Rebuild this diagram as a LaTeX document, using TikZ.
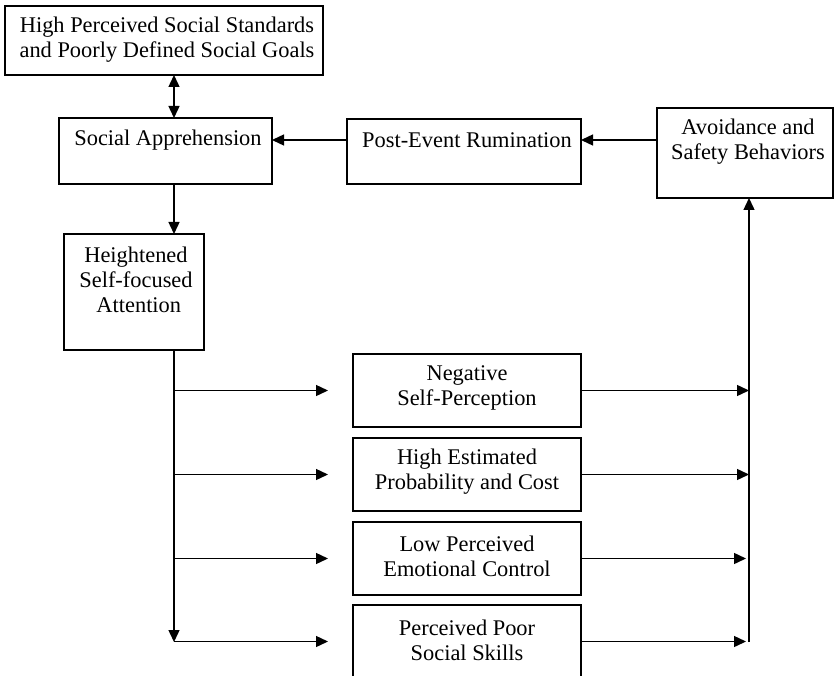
\documentclass[tikz,border=0pt]{standalone}
\usepackage{fontspec}
\setmainfont{Liberation Serif}
\usetikzlibrary{arrows.meta}
\begin{document}
\begin{tikzpicture}[x=1pt,y=-1pt,
  box/.style={draw, line width=1.8pt, inner sep=0pt, outer sep=0pt},
  txt/.style={inner sep=0pt, align=center, font=\fontsize{22.4}{25}\selectfont},
  arr/.style={line width=1.4pt, -{Triangle[length=12pt,width=11pt]}},
  dblarr/.style={line width=1.4pt, {Triangle[length=12pt,width=11pt]}-{Triangle[length=12pt,width=11pt]}},
  ln/.style={line width=1.4pt}]
\clip (0,0) rectangle (834,676);
\fill[white] (0,0) rectangle (834,676);
% boxes
\node[box, minimum width=318pt, minimum height=69pt] (hps) at (164,40.5) {};
\node[box, minimum width=213pt, minimum height=66pt] (sa) at (165.5,151) {};
\node[box, minimum width=234pt, minimum height=65pt] (per) at (464,151.5) {};
\node[box, minimum width=176pt, minimum height=90pt] (asb) at (745,153) {};
\node[box, minimum width=140pt, minimum height=116pt] (hsf) at (134,292) {};
\node[box, minimum width=228pt, minimum height=73pt] (m1) at (467,390.5) {};
\node[box, minimum width=228pt, minimum height=73pt] (m2) at (467,474.5) {};
\node[box, minimum width=228pt, minimum height=73pt] (m3) at (467,558.5) {};
\node[box, minimum width=228pt, minimum height=73pt] (m4) at (467,641.5) {};
% texts
\node[txt] (t-hps) at (167,40) {High Perceived Social Standards\\and Poorly Defined Social Goals};
\node[txt] (t-sa) at (168,140) {Social Apprehension};
\node[txt] (t-per) at (467,140) {Post-Event Rumination};
\node[txt] (t-asb) at (748,142) {Avoidance and\\Safety Behaviors};
\node[txt] (t-hsf) at (136,280) {Heightened\\Self-focused\\\ Attention};
\node[txt] (t-m1) at (467,388) {Negative\\Self-Perception};
\node[txt] (t-m2) at (467,472) {High Estimated\\Probability and Cost};
\node[txt] (t-m3) at (467,556) {Low Perceived\\Emotional Control};
\node[txt] (t-m4) at (467,640) {Perceived Poor\\Social Skills};
% coordinates
\coordinate (trunkend) at (174,642);
\coordinate (b1) at (174,390.5);
\coordinate (b2) at (174,474.5);
\coordinate (b3) at (174,558.5);
\coordinate (b4) at (174,641.5);
\coordinate (e1) at (328,390.5);
\coordinate (e2) at (328,474.5);
\coordinate (e3) at (328,558.5);
\coordinate (e4) at (328,641.5);
\coordinate (r1) at (749,390.5);
\coordinate (r2) at (749,474.5);
\coordinate (r3) at (746,558.5);
\coordinate (r4) at (746,641.5);
\coordinate (rbot) at (749,642);
\coordinate (ylev) at (0,140);
% connectors
\draw[dblarr] (hps.south -| 174,0) -- (sa.north -| 174,0);
\draw[arr] (sa.south -| 174,0) -- (hsf.north -| 174,0);
\draw[arr] (per.west |- ylev) -- (sa.east |- ylev);
\draw[arr] (asb.west |- ylev) -- (per.east |- ylev);
\draw[arr] (hsf.south -| 174,0) -- (trunkend);
\draw[arr] (b1) -- (e1);
\draw[arr] (b2) -- (e2);
\draw[arr] (b3) -- (e3);
\draw[arr] (b4) -- (e4);
\draw[arr] (m1.east) -- (r1);
\draw[arr] (m2.east) -- (r2);
\draw[arr] (m3.east) -- (r3);
\draw[arr] (m4.east) -- (r4);
\draw[arr] (rbot) -- (asb.south -| 749,0);
\end{tikzpicture}
\end{document}
